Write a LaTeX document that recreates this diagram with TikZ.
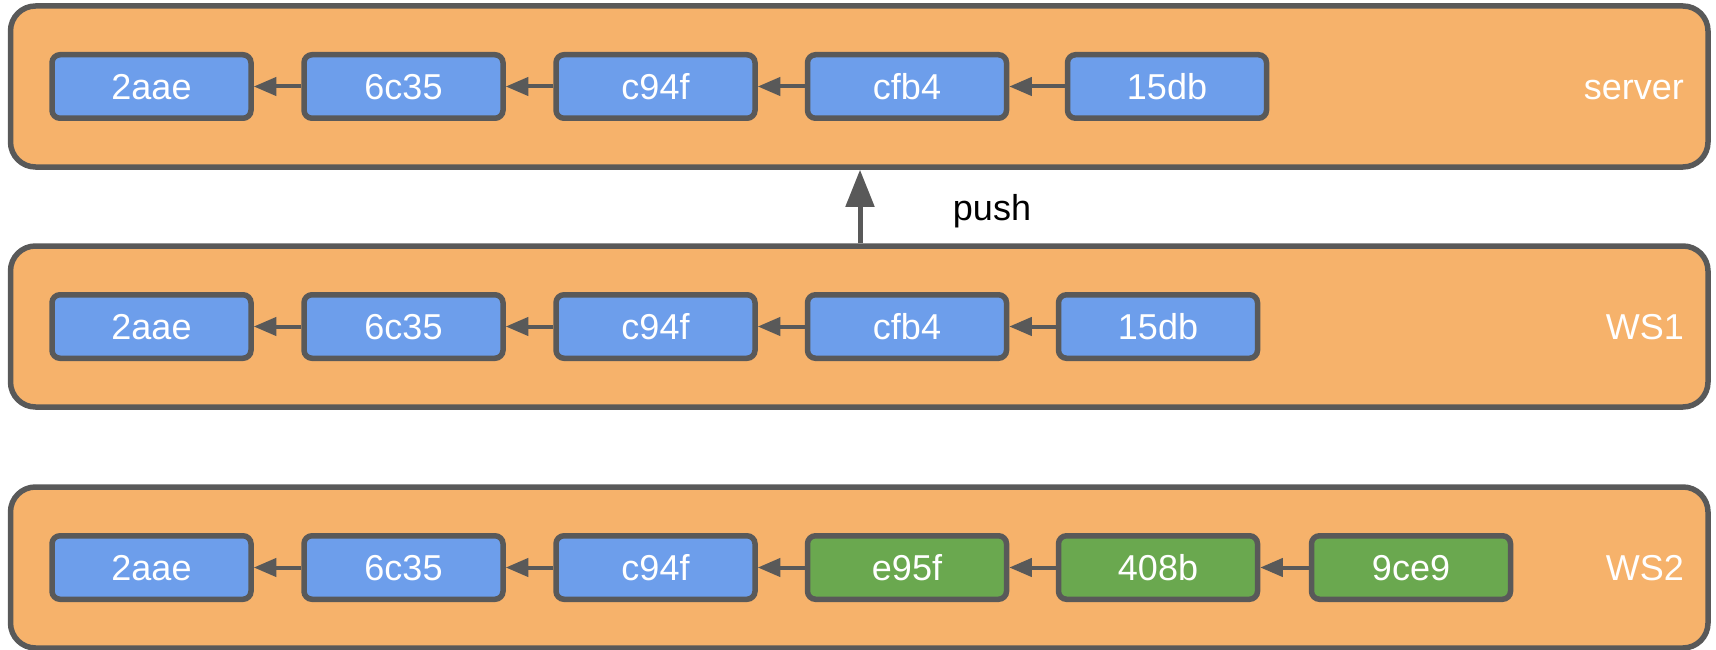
\documentclass[tikz,border=0pt]{standalone}
\usepackage{fontspec}
\setmainfont{Liberation Sans}
\usetikzlibrary{arrows.meta}
\definecolor{lanefill}{HTML}{F6B26B}
\definecolor{edgegray}{HTML}{595959}
\definecolor{commitblue}{HTML}{6D9EEB}
\definecolor{commitgreen}{HTML}{6AA84F}
\begin{document}
\begin{tikzpicture}[x=1pt,y=-1pt,
  lane/.style={draw=edgegray, fill=lanefill, line width=5.5pt, rounded corners=25pt,
    minimum width=1697.5pt, minimum height=161pt, inner sep=0pt},
  commit/.style={draw=edgegray, fill=commitblue, line width=5.5pt, rounded corners=8pt,
    minimum width=199pt, minimum height=63.5pt, inner sep=0pt, text=white,
    font=\fontsize{36}{43}\selectfont, text height=26pt, text depth=0pt},
  newcommit/.style={commit, fill=commitgreen},
  lanelabel/.style={anchor=base east, text=white, inner sep=0pt,
    font=\fontsize{36}{43}\selectfont},
  parent/.style={draw=edgegray, line width=4pt, -{Triangle[length=22.5pt,width=18pt]}},
  pusharrow/.style={draw=edgegray, line width=5pt, -{Triangle[length=37pt,width=28pt]}},
]
\useasboundingbox (0,0) rectangle (1716,650);

% repository lanes
\node[lane] (server) at (859.25,86.5) {};
\node[lane] (ws1) at (859.25,326.5) {};
\node[lane] (ws2) at (859.25,567.5) {};

\node[lanelabel] (serverlbl) at (1684,99.5) {server};
\node[lanelabel] (ws1lbl) at (1684,339.5) {WS1};
\node[lanelabel] (ws2lbl) at (1684,580.5) {WS2};

% server history
\node[commit] (s1) at (151.5,86.5) {2aae};
\node[commit] (s2) at (403.5,86.5) {6c35};
\node[commit] (s3) at (655.5,86.5) {c94f};
\node[commit] (s4) at (907,86.5) {cfb4};
\node[commit] (s5) at (1167,86.5) {15db};
\draw[parent] (s2) -- (s1);
\draw[parent] (s3) -- (s2);
\draw[parent] (s4) -- (s3);
\draw[parent] (s5) -- (s4);

% WS1 history
\node[commit] (a1) at (151.5,326.5) {2aae};
\node[commit] (a2) at (403.5,326.5) {6c35};
\node[commit] (a3) at (655.5,326.5) {c94f};
\node[commit] (a4) at (907,326.5) {cfb4};
\node[commit] (a5) at (1158,326.5) {15db};
\draw[parent] (a2) -- (a1);
\draw[parent] (a3) -- (a2);
\draw[parent] (a4) -- (a3);
\draw[parent] (a5) -- (a4);

% WS2 history
\node[commit] (b1) at (151.5,567.5) {2aae};
\node[commit] (b2) at (403.5,567.5) {6c35};
\node[commit] (b3) at (655.5,567.5) {c94f};
\node[newcommit] (b4) at (907,567.5) {e95f};
\node[newcommit] (b5) at (1158,567.5) {408b};
\node[newcommit] (b6) at (1411,567.5) {9ce9};
\draw[parent] (b2) -- (b1);
\draw[parent] (b3) -- (b2);
\draw[parent] (b4) -- (b3);
\draw[parent] (b5) -- (b4);
\draw[parent] (b6) -- (b5);

% push from WS1 to the server
\coordinate (pushx) at (860,0);
\draw[pusharrow] (ws1.north -| pushx) -- (server.south -| pushx);
\node[anchor=base, inner sep=0pt, font=\fontsize{36}{43}\selectfont] (pushlbl) at (992,220) {push};
\end{tikzpicture}
\end{document}
